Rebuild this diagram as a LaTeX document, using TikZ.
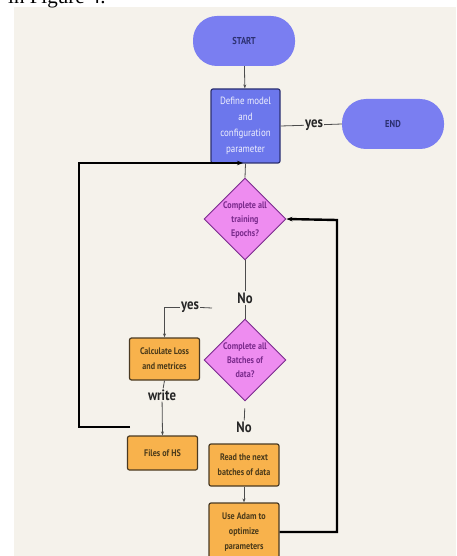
\documentclass[tikz,border=0pt]{standalone}
\usepackage{fontspec}
\setmainfont{PT Sans}[FakeStretch=0.85]
\newfontfamily\capserif{Liberation Serif}
\usepackage{xcolor}
\usetikzlibrary{shapes.geometric}
\usetikzlibrary{arrows.meta}

\definecolor{paper}{HTML}{F5F2EB}
\definecolor{termblue}{HTML}{7A7EF1}
\definecolor{procblue}{HTML}{6C77EC}
\definecolor{navy}{HTML}{2C3070}
\definecolor{decpink}{HTML}{EE8CF0}
\definecolor{decline}{HTML}{7A2A8C}
\definecolor{boxorange}{HTML}{F8B24C}
\definecolor{boxline}{HTML}{4A3A22}
\definecolor{boxtext}{HTML}{4A3A1A}

\begin{document}
\begin{tikzpicture}[x=1pt,y=-1pt,
  terminal/.style={fill=termblue,rounded corners=24pt,minimum width=102pt,minimum height=50pt,
    text=navy,font=\fontsize{10}{10}\selectfont\bfseries},
  defbox/.style={fill=procblue,draw=navy,line width=1.2pt,rounded corners=2pt,minimum width=69pt,
    minimum height=74pt,text=white!90!procblue,align=center,font=\fontsize{10.5}{16}\selectfont},
  decision/.style={diamond,aspect=1,fill=decpink,draw=decline,line width=0.9pt,minimum size=82pt,inner sep=0pt},
  dectext/.style={text=decline,align=center,font=\fontsize{9.5}{14}\selectfont\bfseries},
  task/.style={fill=boxorange,draw=boxline,line width=1.2pt,rounded corners=2pt,minimum width=70pt,
    text=boxtext,align=center,font=\fontsize{9.5}{15}\selectfont\bfseries},
  flowlabel/.style={text=black!85,font=\fontsize{15}{15}\selectfont\bfseries,inner sep=1pt},
  thin/.style={draw=black!70,line width=0.8pt},
  loop/.style={draw=black,line width=2.4pt}]
\useasboundingbox (0,0) rectangle (456,556);
\fill[white] (0,0) rectangle (456,556);
\fill[paper] (14,7) rectangle (456,556);
\node[anchor=base west,font=\fontsize{21}{21}\selectfont\capserif,inner sep=0pt] (caption) at (8,4) {in Figure 4.};

\node[terminal] (start) at (244,41) {START};
\node[defbox] (define) at (245.5,126) {Define model\\and\\configuration\\parameter};
\node[terminal] (finish) at (393,124) {END};

\node[decision] (epoch) at (245,219) {};
\node[dectext] (epochtxt) at (245,220) {Complete all\\training\\Epochs?};
\node[decision] (batch) at (245,360) {};
\node[dectext] (batchtxt) at (245,360) {Complete all\\Batches of\\data?};

\node[task,minimum height=42pt] (calcloss) at (164.5,359) {Calculate Loss\\and metrices};
\node[task,minimum height=34pt] (files) at (162.5,453) {Files of HS};
\node[task,minimum height=42pt] (readnext) at (244,465) {Read the next\\batches of data};
\node[task,minimum height=58pt] (adam) at (244,532) {Use Adam to\\optimize\\parameters};

\node[flowlabel,fill=paper] (yestop) at (314,125) {yes};
\node[flowlabel] (noone) at (245,298) {No};
\node[flowlabel] (notwo) at (244,427) {No};
\node[flowlabel] (yesleft) at (190,307) {yes};
\node[flowlabel] (write) at (162,395) {write};

\coordinate (yesend) at (212,308);
\coordinate (loopstart) at (130,427);
\coordinate (loophit) at (243,163);
\coordinate (loopright) at (337,220);

\draw[thin,-{Stealth[length=4pt]}] (start) -- (define);
\draw[thin] (define.east) -- (yestop) -- (finish.west);
\draw[thin] (define.south) -- (epoch.north);
\draw[thin] (epoch.south) -- (noone);
\draw[thin] (noone) -- (batch.north);
\draw[thin,shorten <=7pt] (batch.south) -- (notwo);
\draw[thin] (yesend) -- (yesleft);
\draw[thin,-{Stealth[length=4pt]}] (yesleft) -| (calcloss.north);
\draw[thin] (calcloss.south) -- (write);
\draw[thin,-{Stealth[length=4pt]}] (write) -- (files.north);
\draw[thin,-{Stealth[length=4pt]}] (readnext) -- (adam);

\draw[loop,-{Stealth[length=6pt]}] (loopstart) -| (79,163) -- (loophit);
\draw[loop,-{Stealth[length=6pt]}] (adam.east) -| (loopright) -- (epoch.east);

\end{tikzpicture}
\end{document}
